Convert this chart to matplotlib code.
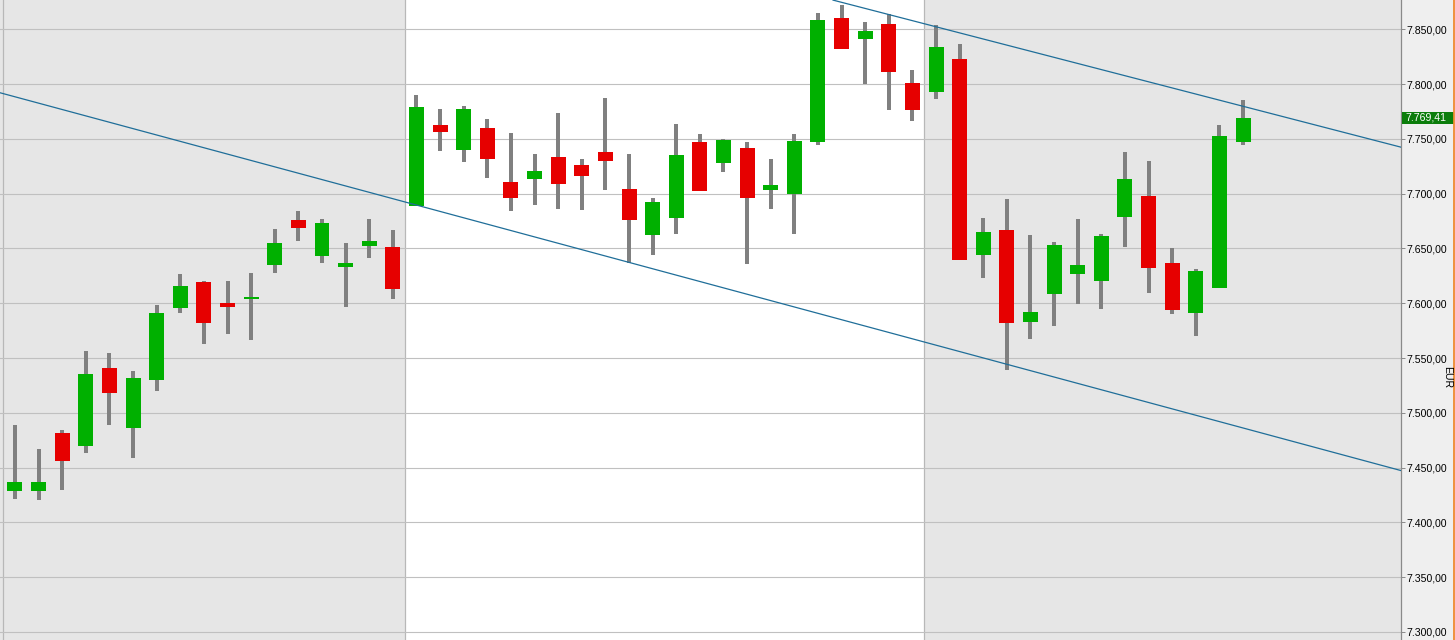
import matplotlib
matplotlib.use("Agg")
import matplotlib.pyplot as plt
from matplotlib.patches import Rectangle
from matplotlib.lines import Line2D
import matplotlib.transforms as mtransforms
import numpy as np

# ---------------- data ----------------
opens = [7429, 7429, 7482, 7470, 7541, 7486, 7530, 7596, 7619, 7600,
         7604.5, 7635, 7676, 7643, 7633, 7652, 7651,
         7689, 7763, 7740, 7760, 7711, 7713, 7733, 7726, 7738, 7704,
         7662, 7678, 7747, 7728, 7742, 7703, 7700, 7747, 7860, 7841,
         7855, 7801,
         7793, 7823, 7644, 7667, 7583, 7608, 7627, 7620, 7679, 7698,
         7637, 7591, 7614, 7747]
highs = [7489, 7467, 7484, 7556, 7555, 7538, 7598, 7627, 7620, 7620,
         7628, 7668, 7684, 7677, 7655, 7677, 7667,
         7790, 7777, 7780, 7768, 7755, 7736, 7774, 7732, 7787, 7736,
         7696, 7764, 7754, 7750, 7747, 7732, 7754, 7865, 7872, 7857,
         7864, 7813,
         7854, 7837, 7678, 7695, 7662, 7656, 7677, 7663, 7738, 7730,
         7650, 7631, 7763, 7785]
lows = [7421, 7420, 7430, 7463, 7489, 7459, 7520, 7591, 7563, 7572,
        7566, 7628, 7657, 7637, 7597, 7641, 7604,
        7689, 7739, 7729, 7714, 7684, 7690, 7686, 7685, 7703, 7637,
        7644, 7663, 7702, 7720, 7636, 7686, 7663, 7744, 7832, 7800,
        7776, 7766,
        7786, 7639, 7623, 7539, 7567, 7579, 7599, 7595, 7651, 7609,
        7590, 7570, 7614, 7744]
closes = [7437, 7437, 7456, 7535, 7518, 7532, 7591, 7616, 7582, 7597,
          7605.5, 7655, 7669, 7673, 7637, 7657, 7613,
          7779, 7756, 7777, 7732, 7696, 7721, 7709, 7716, 7730, 7676,
          7692, 7735, 7702, 7749, 7696, 7708, 7748, 7858, 7832, 7848,
          7811, 7776,
          7834, 7639, 7665, 7582, 7592, 7653, 7635, 7661, 7713, 7632,
          7594, 7629, 7753, 7769.41]

# month band boundaries (candle index units)
band_edges = [-0.5, 16.5, 38.5]

# trend lines: anchor points (candle index, price)
upper_line_x = [34.64, 58.69]
upper_line_y = [7876.6, 7742.4]
lower_line_x = [-0.64, 58.69]
lower_line_y = [7792.1, 7447.3]

y_ticks = [7300, 7350, 7400, 7450, 7500, 7550, 7600, 7650, 7700, 7750, 7800, 7850]
currency = "EUR"

# ---------------- styling ----------------
W, H = 1455, 640
DPI = 100
GREEN = "#00b000"
RED = "#e60000"
WICK = "#808080"
BAND_GRAY = "#e6e6e6"
PANEL = "#efefef"
TREND = "#1f6e99"

fig = plt.figure(figsize=(W / DPI, H / DPI), dpi=DPI, facecolor=PANEL)
ax_right_px = 1401
ax = fig.add_axes([0, 0, ax_right_px / W, 1])
ax.set_facecolor(BAND_GRAY)

x = np.arange(len(opens))
o = np.array(opens, dtype=float)
c = np.array(closes, dtype=float)
hi = np.array(highs, dtype=float)
lo = np.array(lows, dtype=float)

ax.set_xlim(-0.635, 58.69)
ax.set_ylim(7292.7, 7876.7)

# white middle band
ax.axvspan(band_edges[1], band_edges[2], color="white", zorder=0, lw=0)
for e in band_edges:
    ax.axvline(e, color="#b8b8b8", lw=0.9, zorder=0.5)

# grid
ax.set_yticks(y_ticks)
ax.yaxis.grid(True, color="#c0c0c0", lw=0.8, zorder=0.6)
ax.set_axisbelow(True)

# candles
colors = [GREEN if cc >= oo else RED for oo, cc in zip(o, c)]
ax.bar(x, hi - lo, bottom=lo, width=0.17, color=WICK, zorder=2, lw=0)
body_h = np.maximum(np.abs(c - o), 1.5)
body_b = np.minimum(o, c) - np.where(np.abs(c - o) < 1.5, (1.5 - np.abs(c - o)) / 2, 0)
ax.bar(x, body_h, bottom=body_b, width=0.635, color=colors, zorder=3, lw=0)

# trend lines
ax.plot(upper_line_x, upper_line_y, color=TREND, lw=0.9, zorder=4)
ax.plot(lower_line_x, lower_line_y, color=TREND, lw=0.9, zorder=4)

# axis styling
for s in ["top", "left", "bottom"]:
    ax.spines[s].set_visible(False)
ax.spines["right"].set_color("#8a8a8a")
ax.spines["right"].set_linewidth(0.9)
ax.set_xticks([])
ax.yaxis.tick_right()
ax.tick_params(axis="y", length=3, width=0.7, color="#8a8a8a", pad=1,
               labelsize=7.6, labelcolor="#000000")


def fmt(v):
    s = f"{v:,.2f}"
    return s.replace(",", "X").replace(".", ",").replace("X", ".")


ax.set_yticklabels([fmt(v) for v in y_ticks], family="Liberation Sans")

# last price tag
trans = mtransforms.blended_transform_factory(ax.transAxes, ax.transData)
last = closes[-1]
tag_w = 52 / ax_right_px
tag_h = 12 / 1.096
ax.add_patch(Rectangle((1.0007, last - tag_h / 2), tag_w, tag_h, transform=trans,
                       facecolor="#0b7d0b", edgecolor="none", clip_on=False, zorder=10))
ax.text(1.003, last, fmt(last), transform=trans, ha="left", va="center",
        color="white", fontsize=7.6, family="Liberation Sans", zorder=11, clip_on=False)

# currency label
fig.text(1447 / W, 1 - 377 / H, currency, rotation=-90, ha="center", va="center",
         fontsize=7.6, family="Liberation Sans")

# orange right edge
fig.add_artist(Line2D([1453.5 / W, 1453.5 / W], [0, 1], transform=fig.transFigure,
                      color="#f08a30", lw=1.3))

fig.savefig("out.png", dpi=DPI, facecolor=PANEL)
